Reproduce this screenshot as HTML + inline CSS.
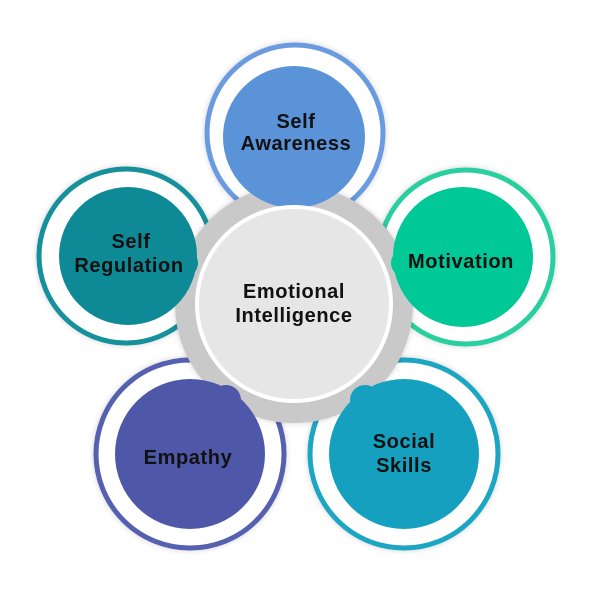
<!DOCTYPE html>
<html><head><meta charset="utf-8"><style>html,body{margin:0;padding:0;background:#fff}svg{display:block}</style></head>
<body>
<svg width="600" height="600" viewBox="0 0 600 600" xmlns="http://www.w3.org/2000/svg" font-family="'Liberation Sans', sans-serif" font-weight="bold" fill="#111">
<defs>
<filter id="sh" x="-20%" y="-20%" width="140%" height="140%"><feDropShadow dx="0" dy="0" stdDeviation="3" flood-color="#000" flood-opacity="0.18"/></filter>
</defs>
<circle cx="295" cy="133" r="88" fill="#fff" stroke="#6a9be0" stroke-width="5" filter="url(#sh)"/>
<circle cx="466" cy="257" r="87" fill="#fff" stroke="#2ccfa0" stroke-width="5" filter="url(#sh)"/>
<circle cx="126" cy="256" r="87" fill="#fff" stroke="#16909a" stroke-width="5" filter="url(#sh)"/>
<circle cx="190" cy="454" r="94" fill="#fff" stroke="#5560b0" stroke-width="5" filter="url(#sh)"/>
<circle cx="404" cy="454" r="94" fill="#fff" stroke="#1aa6c4" stroke-width="5" filter="url(#sh)"/>
<circle cx="294" cy="304" r="119" fill="#c9c9c9" filter="url(#sh)"/>
<circle cx="294" cy="137" r="71" fill="#5b93d9"/>
<circle cx="294" cy="196" r="14" fill="#5b93d9"/>
<circle cx="463" cy="257" r="70" fill="#00c896"/>
<circle cx="405" cy="263" r="14" fill="#00c896"/>
<circle cx="128" cy="256" r="69" fill="#0e8a96"/>
<circle cx="184" cy="263" r="14" fill="#0e8a96"/>
<circle cx="190" cy="454" r="75" fill="#4f58a8"/>
<circle cx="226" cy="400" r="15" fill="#4f58a8"/>
<circle cx="404" cy="454" r="75" fill="#16a0c0"/>
<circle cx="365" cy="400" r="15" fill="#16a0c0"/>
<circle cx="294" cy="304" r="99" fill="#fff"/>
<circle cx="294" cy="304" r="95" fill="#e6e6e6"/>
<g font-size="20" text-anchor="middle" letter-spacing="0.6">
<text x="294" y="298">Emotional</text>
<text x="294" y="322">Intelligence</text>
<text x="296" y="128">Self</text>
<text x="296" y="150">Awareness</text>
<text x="131" y="248">Self</text>
<text x="129" y="272">Regulation</text>
<text x="461" y="268">Motivation</text>
<text x="188" y="464">Empathy</text>
<text x="404" y="448">Social</text>
<text x="404" y="472">Skills</text>
</g>
</svg>
</body></html>
